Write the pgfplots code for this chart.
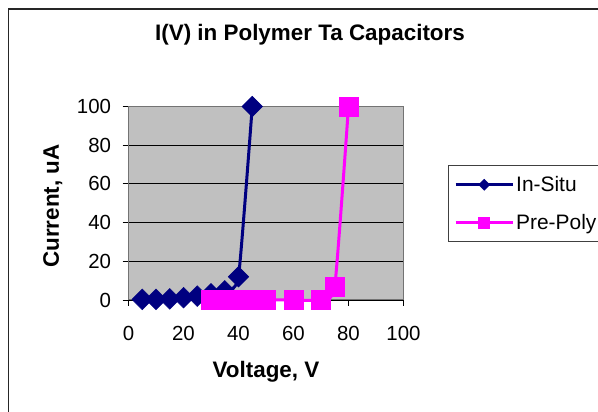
\documentclass[border=0pt]{standalone}
\usepackage{pgfplots}
\pgfplotsset{compat=1.18}
\usepackage{fontspec}
\setmainfont{Liberation Sans}
\definecolor{plotgray}{RGB}{192,192,192}
\definecolor{insitu}{RGB}{0,0,128}
\definecolor{prepoly}{RGB}{255,0,255}
\pgfplotsset{
  insitu legend/.style={legend image code/.code={\draw[##1, mark size=3.9bp, mark repeat=2, mark phase=2] plot coordinates {(0bp,0bp) (28.5bp,0bp) (57bp,0bp)};}},
  prepoly legend/.style={legend image code/.code={\draw[##1, mark size=5.5bp, mark repeat=2, mark phase=2] plot coordinates {(0bp,0bp) (28.5bp,0bp) (57bp,0bp)};}},
}
\begin{document}
\begin{tikzpicture}
\useasboundingbox (0,0) rectangle (598bp,412bp);
\draw[line width=1.5bp, black!85] (8.5bp,-20bp) -- (8.5bp,403bp) -- (620bp,403bp);
\node[font=\fontsize{22.5}{22.5}\selectfont\bfseries] at (310bp,377bp) {I(V) in Polymer Ta Capacitors};
\node[font=\fontsize{22.5}{22.5}\selectfont\bfseries] at (266bp,40.3bp) {Voltage, V};
\node[font=\fontsize{22.5}{22.5}\selectfont\bfseries, rotate=90] at (52.7bp,206bp) {Current, uA};
\begin{axis}[
  at={(128.5bp,112bp)}, anchor=south west,
  scale only axis, width=275bp, height=193.5bp,
  xmin=0, xmax=100, ymin=0, ymax=100,
  xtick={0,20,...,100}, ytick={0,20,...,100},
  axis background/.style={fill=plotgray},
  ymajorgrids, grid style={black, line width=0.9bp},
  axis line style={black!55, line width=1bp},
  tick style={black, line width=0.9bp},
  tick align=outside, tick pos=left, major tick length=6bp,
  /pgf/number format/assume math mode=true,
  ticklabel style={font=\fontsize{20.5}{20.5}\selectfont},
  xticklabel style={yshift=-16.5bp},
  yticklabel style={xshift=-8bp},
  clip=false,
  legend style={at={(1.1607,0.6977)}, anchor=north west, draw=black!75, line width=1bp,
    fill=white, font=\fontsize{21}{21}\selectfont, inner xsep=6bp, inner ysep=9bp,
    row sep=17bp, text width=85bp,
    /tikz/every even column/.append style={column sep=5bp}},
  legend cell align=left,
]
\addplot[color=insitu, line width=3bp, smooth, tension=0.3, mark=square*,
  mark size=7.3bp, mark options={rotate=45, solid, fill=insitu, line width=0.5bp},
  insitu legend]
  coordinates {(5,0.3) (10,0.3) (15,0.6) (20,1.2) (25,2) (30,3.2) (35,4.7) (40,12) (45,100)};
\addlegendentry{In-Situ}
\addplot[color=prepoly, line width=3bp, smooth, tension=0.3, mark=square*,
  mark size=9.5bp, mark options={solid, fill=prepoly, line width=0.5bp},
  prepoly legend]
  coordinates {(30,0) (35,0) (40,0) (45,0) (50,0) (60,0) (70,0) (75,7) (80,100)};
\addlegendentry{Pre-Poly}
\end{axis}
\end{tikzpicture}
\end{document}
